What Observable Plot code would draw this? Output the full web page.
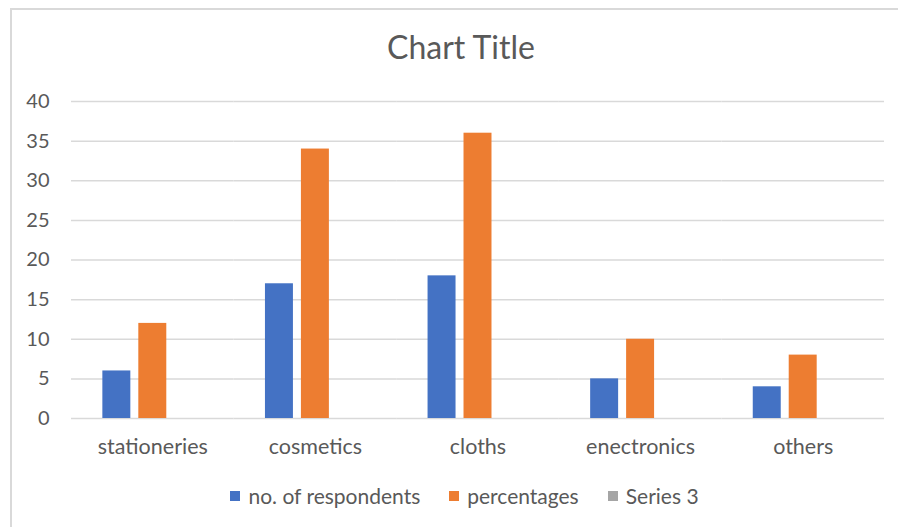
<!DOCTYPE html>
<html>
<head>
<meta charset="utf-8">
<script src="https://cdn.jsdelivr.net/npm/d3@7"></script>
<script src="https://cdn.jsdelivr.net/npm/@observablehq/plot@0.6"></script>
<style>
  html, body { margin: 0; padding: 0; background: #fff; }
  body { width: 898px; height: 527px; position: relative; overflow: hidden; font-family: Lato, "Open Sans", sans-serif; color: #595959; }
  .frame { position: absolute; left: 10px; top: 8px; width: 1000px; height: 700px; border-left: 2px solid #d9d9d9; border-top: 2px solid #d9d9d9; box-sizing: border-box; }
  .title { position: absolute; left: 0; top: 31px; width: 922px; text-align: center; font-size: 32px; line-height: 1; }
  #chart { position: absolute; left: 0; top: 80px; }
  .legend { position: absolute; left: 0; top: 485px; width: 929px; display: flex; justify-content: center; gap: 29px; font-size: 21px; line-height: 1; }
  .legend .item { display: flex; align-items: center; }
  .legend .swatch { width: 10px; height: 10px; margin-right: 8px; }
</style>
</head>
<body>
<div class="frame"></div>
<div class="title">Chart Title</div>
<div id="chart"></div>
<div class="legend" id="legend"></div>
<script>
// Survey categories and the two recorded series (Series 3 has no values)
const categories = ["stationeries", "cosmetics", "cloths", "enectronics", "others"];
const seriesNames = ["no. of respondents", "percentages", "Series 3"];
const respondents = [6, 17, 18, 5, 4];
const percentages = [12, 34, 36, 10, 8];
const series3 = [null, null, null, null, null];
const yTicks = [0, 5, 10, 15, 20, 25, 30, 35, 40];
const seriesColors = ["#4472C4", "#ED7D31", "#A5A5A5"];

// Long-format rows for the grouped bars
const rows = [];
[respondents, percentages, series3].forEach((values, s) => {
  values.forEach((v, i) => {
    if (v != null) rows.push({category: categories[i], series: seriesNames[s], value: v});
  });
});

const chart = Plot.plot({
  width: 898,
  height: 390,
  marginLeft: 71,
  marginRight: 14,
  marginTop: 21,
  marginBottom: 52,
  style: {fontFamily: "Lato, 'Open Sans', sans-serif", fontSize: "20px", color: "#595959", background: "transparent", overflow: "visible"},
  fx: {domain: categories, padding: 0, round: false, label: null, axis: null},
  x: {domain: seriesNames, paddingInner: 0.222, paddingOuter: 0.872, round: false, axis: null},
  y: {domain: [0, 40], ticks: yTicks, tickSize: 0, tickPadding: 22, label: null},
  color: {domain: seriesNames, range: seriesColors},
  marks: [
    Plot.gridY(yTicks, {stroke: "#d9d9d9", strokeOpacity: 1, strokeWidth: 1.5}),
    Plot.barY(rows, {fx: "category", x: "series", y: "value", fill: "series"}),
    Plot.axisFx({anchor: "bottom", tickSize: 0, tickPadding: 20, fontSize: 21.5, label: null})
  ]
});
document.getElementById("chart").appendChild(chart);

// Legend row under the plot
const legend = document.getElementById("legend");
seriesNames.forEach((name, i) => {
  const item = document.createElement("div");
  item.className = "item";
  const sw = document.createElement("span");
  sw.className = "swatch";
  sw.style.background = seriesColors[i];
  const label = document.createElement("span");
  label.textContent = name;
  item.appendChild(sw);
  item.appendChild(label);
  legend.appendChild(item);
});
</script>
</body>
</html>
